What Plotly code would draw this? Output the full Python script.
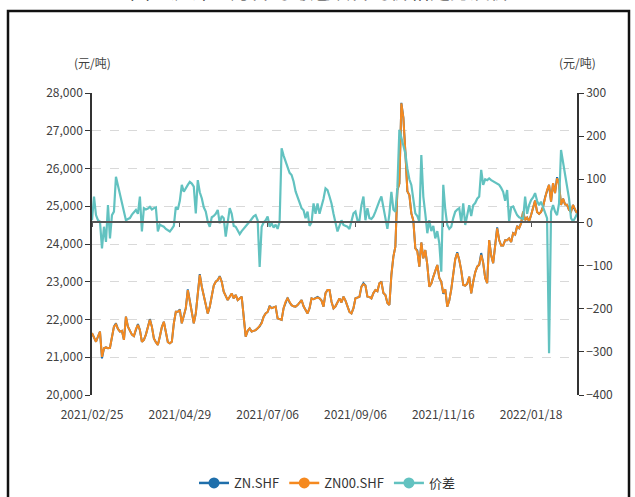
import pandas as pd
import plotly.graph_objects as go

# ---------------- data ----------------
holidays = ["2021-04-05", "2021-05-03", "2021-05-04", "2021-05-05", "2021-06-14",
            "2021-09-20", "2021-09-21", "2021-10-01", "2021-10-04", "2021-10-05",
            "2021-10-06", "2021-10-07", "2022-01-03", "2022-01-31", "2022-02-01",
            "2022-02-02", "2022-02-03", "2022-02-04"]
dates = [d.strftime("%Y/%m/%d") for d in pd.bdate_range("2021-02-25", "2022-02-25")
         if d.strftime("%Y-%m-%d") not in holidays]

x_tick_labels = ["2021/02/25", "2021/04/29", "2021/07/06", "2021/09/06", "2021/11/16", "2022/01/18"]

zn00_shf = [
    21640, 21500, 21410, 21550, 21680, 21010, 21240, 21260, 21240, 21250,
    21500, 21810, 21870, 21750, 21680, 21700, 21460, 22075, 21810, 21700,
    21600, 21560, 21750, 21855, 21720, 21410, 21460, 21600, 21800, 21990,
    21810, 21500, 21400, 21325, 21550, 21800, 21940, 21640, 21400, 21370,
    21410, 21900, 22205, 22205, 22250, 21900, 22075, 22300, 22780, 22515,
    22200, 21900, 22160, 22600, 23180, 22870, 22600, 22400, 22160, 22340,
    22600, 22900, 23000, 23045, 23135, 23000, 22735, 22600, 22515, 22600,
    22690, 22560, 22650, 22515, 22550, 22605, 22075, 21545, 21700, 21765,
    21680, 21700, 21720, 21765, 21820, 21900, 22075, 22160, 22200, 22340,
    22300, 22320, 22340, 22030, 22000, 21990, 22300, 22470, 22560, 22450,
    22380, 22350, 22340, 22380, 22450, 22515, 22350, 22250, 22160, 22300,
    22560, 22540, 22560, 22580, 22560, 22500, 22340, 22700, 22780, 22780,
    22470, 22295, 22350, 22450, 22560, 22450, 22605, 22500, 22350, 22200,
    22160, 22300, 22560, 22580, 22600, 22870, 22935, 22900, 22605, 22600,
    22560, 22700, 22780, 22750, 22960, 22985, 22700, 22650, 22435, 22385,
    23180, 23665, 23930, 25430, 25600, 27725, 27350, 26445, 25400, 25300,
    24815, 24620, 23885, 23800, 23400, 24040, 23620, 23840, 23445, 22870,
    22950, 23130, 23300, 23445, 23100, 23000, 22700, 22800, 22340, 22500,
    22800, 23200, 23600, 23755, 23580, 23300, 22915, 22900, 22950, 23135,
    22695, 23000, 23250, 23400, 23450, 23710, 23500, 23100, 22960, 24105,
    23700, 23490, 23900, 24415, 24105, 23960, 23960, 24100, 24100, 24150,
    24050, 24285, 24250, 24460, 24420, 24550, 24855, 24635, 24700, 24600,
    24770, 24990, 25150, 24850, 24800, 24850, 24990, 25210, 25430, 25565,
    25120, 25610, 25350, 25740, 25600, 25035, 25200, 25050, 25040, 24900,
    24855, 25035, 24900, 24815,
]

zn_shf = [
    21640, 21500, 21410, 21550, 21680, 20970, 21240, 21260, 21240, 21250,
    21500, 21810, 21900, 21750, 21680, 21700, 21460, 22075, 21810, 21700,
    21600, 21560, 21750, 21880, 21720, 21410, 21460, 21600, 21800, 22010,
    21810, 21500, 21400, 21325, 21550, 21800, 21940, 21640, 21400, 21370,
    21410, 21900, 22205, 22205, 22270, 21900, 22075, 22300, 22800, 22515,
    22200, 21900, 22160, 22600, 23200, 22870, 22600, 22400, 22160, 22340,
    22600, 22900, 23000, 23045, 23150, 23000, 22735, 22600, 22515, 22600,
    22690, 22560, 22650, 22515, 22550, 22605, 22075, 21545, 21700, 21765,
    21680, 21700, 21720, 21765, 21820, 21920, 22075, 22160, 22200, 22360,
    22300, 22320, 22340, 22030, 22000, 21990, 22300, 22470, 22580, 22450,
    22380, 22350, 22340, 22380, 22450, 22515, 22350, 22250, 22160, 22300,
    22560, 22540, 22560, 22600, 22560, 22500, 22340, 22700, 22780, 22780,
    22470, 22295, 22350, 22450, 22560, 22450, 22605, 22500, 22350, 22200,
    22160, 22300, 22560, 22580, 22600, 22870, 22960, 22900, 22605, 22600,
    22560, 22700, 22780, 22750, 22960, 23010, 22700, 22650, 22435, 22385,
    23180, 23665, 23930, 25430, 25600, 27740, 27350, 26445, 25400, 25300,
    24815, 24620, 23885, 23830, 23400, 24040, 23620, 23840, 23445, 22870,
    22950, 23130, 23300, 23445, 23100, 23000, 22680, 22800, 22340, 22500,
    22800, 23200, 23600, 23780, 23580, 23300, 22915, 22900, 22950, 23135,
    22695, 23000, 23250, 23400, 23450, 23760, 23500, 23100, 22960, 24105,
    23700, 23490, 23900, 24440, 24105, 23960, 23960, 24100, 24100, 24150,
    24050, 24285, 24250, 24480, 24420, 24550, 24855, 24635, 24700, 24600,
    24770, 24990, 25150, 24850, 24800, 24850, 24990, 25240, 25430, 25565,
    25120, 25610, 25350, 25770, 25600, 25035, 25200, 25050, 25040, 24900,
    24855, 25035, 24900, 24815,
]

spread = [
    5, 60, 17, 5, 2, -60, -10, -45, 40, -37,
    17, 25, 106, 85, 65, 45, 30, 5, 8, 10,
    18, 25, 29, 20, 60, -21, 33, 30, 32, 36,
    30, 33, 35, -21, -5, -8, -10, -15, -18, -21,
    -15, -8, 36, 30, 50, 87, 71, 80, 87, 94,
    90, 83, 21, 98, 70, 56, 35, 25, 2, -10,
    12, 15, 20, 29, -2, 15, 10, -33, 5, 33,
    20, -8, -10, -18, -27, -20, -15, -10, -5, 2,
    8, 14, 17, 5, -103, -10, 0, 5, 14, -10,
    -2, -12, -5, -15, 2, 172, 155, 140, 125, 115,
    110, 95, 72, 60, 45, 33, 28, 10, 25, -8,
    0, 44, 20, 44, 20, 35, 55, 79, 75, 60,
    44, 20, 2, -21, -8, 5, -6, -8, -10, -15,
    5, 21, 25, 5, 5, 40, 60, 5, 33, 10,
    8, 14, 25, 40, 50, 60, 30, 10, -15, 20,
    71, 30, 25, 80, 215, 195, 179, 160, 125, 100,
    87, 52, 21, 15, 2, 156, 60, 20, -25, 5,
    -20, -8, -37, -20, -48, -114, 87, 30, -6, -15,
    -10, 10, 25, 30, 33, 0, 44, -6, 15, 40,
    15, 40, 45, 55, 60, 122, 87, 100, 98, 102,
    98, 95, 93, 90, 87, 80, 71, 50, 75, 2,
    35, 37, 25, 17, 12, 10, 8, 60, 20, 40,
    52, 58, 68, 50, 40, 48, 36, 25, 10, -303,
    25, 40, 25, 17, 44, 168, 140, 110, 80, 56,
    10, 2, 10, 20,
]

series_names = ["ZN.SHF", "ZN00.SHF", "价差"]
unit_label = "(元/吨)"
title_text = "图：沪锌主力合约与连续合约价格走势及价差"

left_range = [20000, 28000]
right_range = [-400, 300]

# ---------------- styling ----------------
n = min(len(dates), len(zn00_shf), len(zn_shf), len(spread))
dates = dates[:n]
C_BLUE = "#1f6fab"
C_ORANGE = "#f5891f"
C_TEAL = "#62c2c0"
FONT = "Noto Sans CJK SC, Noto Sans, sans-serif"
TXT = "#404040"

fig = go.Figure()
fig.add_trace(go.Scatter(x=dates, y=zn_shf[:n], mode="lines", name=series_names[0],
                         line=dict(color=C_BLUE, width=2), showlegend=False,
                         xaxis="x", yaxis="y"))
fig.add_trace(go.Scatter(x=dates, y=zn00_shf[:n], mode="lines", name=series_names[1],
                         line=dict(color=C_ORANGE, width=2), showlegend=False,
                         xaxis="x", yaxis="y"))
fig.add_trace(go.Scatter(x=dates, y=spread[:n], mode="lines", name=series_names[2],
                         line=dict(color=C_TEAL, width=2.2), showlegend=False,
                         xaxis="x2", yaxis="y2"))
for nm, c in zip(series_names, [C_BLUE, C_ORANGE, C_TEAL]):
    fig.add_trace(go.Scatter(x=[None], y=[None], mode="lines+markers", name=nm,
                             line=dict(color=c, width=2.5), marker=dict(color=c, size=11),
                             xaxis="x", yaxis="y"))

L, R, T, B = 92, 58, 93, 102
W, H = 635, 497
pw, ph = W - L - R, H - T - B

zero_pos = (0 - right_range[0]) / (right_range[1] - right_range[0])

fig.update_layout(
    width=W, height=H,
    margin=dict(l=L, r=R, t=T, b=B, pad=0, autoexpand=False),
    paper_bgcolor="white", plot_bgcolor="white",
    font=dict(family=FONT, size=12, color=TXT),
    showlegend=True,
    legend=dict(orientation="h", xref="paper", x=(327 - L) / pw, xanchor="center",
                yref="container", y=1 - 483 / H, yanchor="middle",
                font=dict(size=13, color="#333333"), itemwidth=30,
                bgcolor="rgba(0,0,0,0)"),
    xaxis=dict(type="category", categoryorder="array", categoryarray=dates,
               range=[0, n - 1], showline=False, showgrid=False, zeroline=False,
               tickmode="array", tickvals=x_tick_labels, ticktext=x_tick_labels,
               ticks="outside", ticklen=9, tickcolor="rgba(0,0,0,0)",
               tickfont=dict(size=12, color=TXT), automargin=False),
    xaxis2=dict(type="category", categoryorder="array", categoryarray=dates,
                range=[0, n - 1], overlaying="x", anchor="free", position=zero_pos,
                showline=True, linecolor="#555555", linewidth=1.5,
                showgrid=False, zeroline=False, tickmode="array", tickvals=x_tick_labels,
                ticks="outside", ticklen=4, tickcolor="#555555", tickwidth=1,
                showticklabels=False, automargin=False),
    yaxis=dict(range=left_range, dtick=1000, tickformat=",d",
               showline=True, linecolor="#333333", linewidth=1.5,
               ticks="outside", ticklen=5, tickcolor="#333333",
               showgrid=True, gridcolor="#d9d9d9", griddash="dash", gridwidth=1,
               zeroline=False, tickfont=dict(size=12, color=TXT), automargin=False),
    yaxis2=dict(range=right_range, dtick=100, overlaying="y", side="right", anchor="x",
                showline=True, linecolor="#333333", linewidth=1.5,
                ticks="outside", ticklen=5, tickcolor="#333333",
                showgrid=False, zeroline=False, tickfont=dict(size=12, color=TXT),
                automargin=False),
    annotations=[
        dict(text=unit_label, xref="paper", yref="paper", x=0, y=(T + ph - 62) / ph,
             xanchor="center", yanchor="middle", showarrow=False,
             font=dict(size=12, color=TXT)),
        dict(text=unit_label, xref="paper", yref="paper", x=1, y=(T + ph - 62) / ph,
             xanchor="center", yanchor="middle", showarrow=False,
             font=dict(size=12, color=TXT)),
        dict(text=title_text, xref="paper", yref="paper", x=(330 - L) / pw,
             y=(T + ph - 7) / ph, xanchor="center", yanchor="bottom", showarrow=False,
             font=dict(size=20, color="#222222")),
    ],
    shapes=[
        dict(type="rect", xref="paper", yref="paper",
             x0=(8 - L) / pw, x1=(629 - L) / pw,
             y0=(T + ph - 510) / ph, y1=(T + ph - 11) / ph,
             line=dict(color="#111111", width=2.5), fillcolor="rgba(0,0,0,0)",
             layer="below"),
    ],
)

fig.write_html("out.html", config={"displayModeBar": False},
               post_script="document.body.style.margin='0';document.body.style.overflow='hidden';")
